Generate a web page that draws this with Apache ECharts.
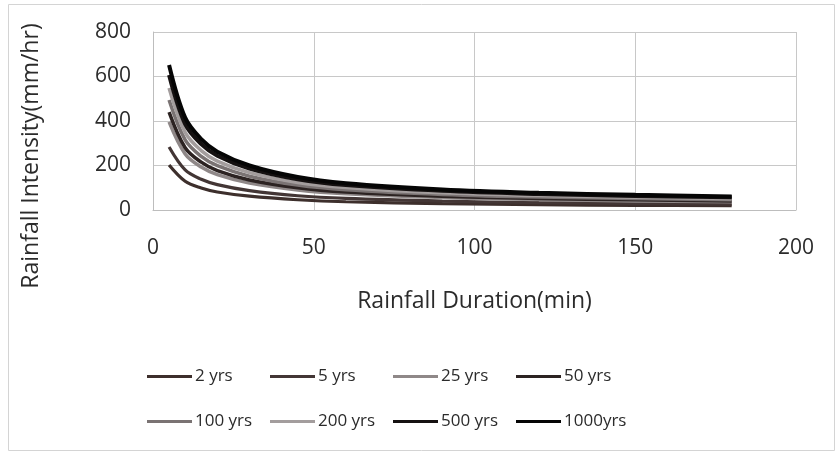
<!DOCTYPE html>
<html>
<head>
<meta charset="utf-8">
<script src="https://cdn.jsdelivr.net/npm/echarts@6/dist/echarts.min.js"></script>
<style>
html,body{margin:0;padding:0;background:#fff;}
#c{width:835px;height:453px;}
</style>
</head>
<body>
<div id="c"></div>
<script>
// Rainfall duration (min)
var durations = [5, 10, 15, 20, 30, 45, 60, 90, 120, 150, 180];
// Rainfall intensity (mm/hr) per return period
var yrs2    = [202, 129, 99, 81, 62, 46, 37, 29, 24, 21, 19];
var yrs5    = [283, 180, 138, 114, 87, 64, 52, 40, 33, 30, 26];
var yrs25   = [396, 252, 193, 159, 121, 90, 73, 56, 47, 41, 37];
var yrs50   = [440, 280, 215, 177, 135, 100, 81, 62, 52, 46, 41];
var yrs100  = [494, 315, 241, 199, 152, 112, 91, 70, 58, 52, 46];
var yrs200  = [548, 349, 267, 220, 168, 124, 101, 77, 65, 57, 51];
var yrs500  = [607, 386, 296, 244, 186, 138, 112, 86, 72, 63, 57];
var yrs1000 = [652, 415, 318, 262, 200, 148, 120, 92, 77, 68, 61];

var seriesNames = ['2 yrs', '5 yrs', '25 yrs', '50 yrs', '100 yrs', '200 yrs', '500 yrs', '1000yrs'];
var seriesData = [yrs2, yrs5, yrs25, yrs50, yrs100, yrs200, yrs500, yrs1000];
var xTicks = [0, 50, 100, 150, 200];
var yTicks = [0, 200, 400, 600, 800];

var colors = ['#3d2f2c', '#433635', '#8f8888', '#2c2322', '#7a7373', '#a39d9d', '#151111', '#050505'];
var widths = [3.2, 3.2, 3.5, 3.5, 3.5, 3.5, 4, 4];
var FONT = 'Open Sans';
var TXT = '#2b2b2b';

var series = seriesNames.map(function (n, i) {
  return {
    name: n,
    type: 'line',
    smooth: 0.35,
    symbol: 'none',
    data: durations.map(function (t, j) { return [t, seriesData[i][j]]; }),
    lineStyle: { color: colors[i], width: widths[i] },
    itemStyle: { color: colors[i] },
    z: 2 + i
  };
});

var colLeft = [147, 270, 393, 516];
var rowTop = [368, 413];
var legends = seriesNames.map(function (n, i) {
  return {
    left: colLeft[i % 4],
    top: rowTop[Math.floor(i / 4)],
    padding: 0,
    itemWidth: 45,
    itemHeight: 3,
    itemGap: 0,
    icon: 'rect',
    data: [n],
    textStyle: { fontFamily: FONT, fontSize: 17, color: TXT, padding: [0, 0, 0, -2] }
  };
});

var chart = echarts.init(document.getElementById('c'));
chart.setOption({
  backgroundColor: '#fff',
  animation: false,
  color: colors,
  grid: { left: 153, right: 39, top: 32, bottom: 243 },
  xAxis: {
    type: 'value',
    min: xTicks[0], max: xTicks[xTicks.length - 1], interval: 50,
    name: 'Rainfall Duration(min)',
    nameLocation: 'middle',
    nameGap: 80,
    nameTextStyle: { fontFamily: FONT, fontSize: 23, color: TXT },
    axisLine: { show: true, lineStyle: { color: '#bdbdbd', width: 1 } },
    axisTick: { show: false },
    axisLabel: { fontFamily: FONT, fontSize: 21, color: TXT, margin: 28 },
    splitLine: { show: true, lineStyle: { color: '#c8c8c8', width: 1 } }
  },
  yAxis: {
    type: 'value',
    min: yTicks[0], max: yTicks[yTicks.length - 1], interval: 200,
    axisLine: { show: true, lineStyle: { color: '#bdbdbd', width: 1 } },
    axisTick: { show: false },
    axisLabel: { fontFamily: FONT, fontSize: 21, color: TXT, margin: 22 },
    splitLine: { show: true, lineStyle: { color: '#c8c8c8', width: 1 } }
  },
  legend: legends,
  graphic: [
    {
      type: 'rect',
      shape: { x: 8.5, y: 4.5, width: 826, height: 446 },
      style: { fill: 'none', stroke: '#d4d4d4', lineWidth: 1 },
      silent: true, z: -1
    },
    {
      type: 'text',
      x: 31, y: 156,
      rotation: Math.PI / 2,
      style: {
        text: 'Rainfall Intensity(mm/hr)',
        fontFamily: FONT, fontSize: 23, fill: TXT,
        textAlign: 'center', textVerticalAlign: 'middle'
      }
    }
  ],
  series: series
});
</script>
</body>
</html>
